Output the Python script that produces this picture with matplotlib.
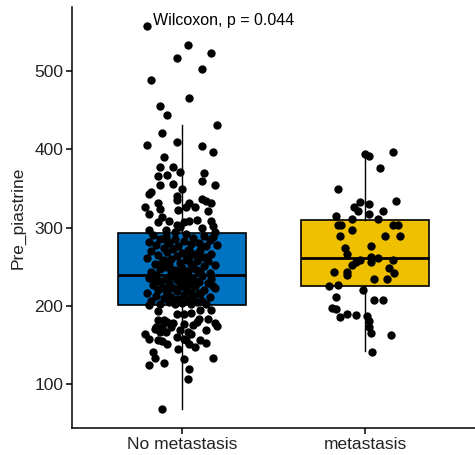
import numpy as np
import matplotlib
matplotlib.use("Agg")
from matplotlib import pyplot as plt

plt.rcParams['font.family'] = ['Liberation Sans', 'DejaVu Sans']

groups = ['No metastasis', 'metastasis']
box_colors = ['#0073C2', '#EFC000']

# box statistics
q1 = [201, 226]
med = [240, 261]
q3 = [293, 310]
whislo = [68, 142]
whishi = [431, 394]

# No metastasis: (jitter offset, value)
nomet_pts = [
    # above the box
    (-0.19, 557), (0.03, 533), (-0.03, 517), (0.16, 523), (0.11, 502), (-0.17, 488),
    (0.04, 466), (-0.12, 455), (-0.08, 444), (0.19, 431), (-0.11, 421), (-0.19, 405),
    (-0.03, 409), (0.11, 404), (0.17, 397), (-0.10, 390), (-0.12, 377), (-0.05, 377),
    (-0.01, 371), (-0.13, 366), (-0.08, 367), (0.12, 370), (0.11, 360), (-0.12, 354),
    (-0.05, 356), (0.18, 355), (-0.17, 346), (-0.18, 343), (0.00, 349), (-0.03, 341),
    (-0.03, 335), (0.11, 337), (0.13, 334), (0.16, 332), (0.04, 332), (-0.13, 331),
    (-0.20, 327), (-0.12, 324), (0.07, 326), (0.02, 327), (-0.02, 322), (-0.18, 318),
    (0.14, 321), (-0.11, 314), (-0.13, 307), (-0.07, 309), (0.08, 310), (0.16, 308),
    (0.01, 307), (0.04, 308), (-0.03, 303), (-0.01, 301), (0.17, 302), (0.11, 300),
    (-0.18, 297), (-0.09, 297), (-0.04, 295), (0.18, 295),
    # inside the box, upper half
    (-0.16, 291), (-0.09, 290), (0.02, 292), (0.12, 289), (0.17, 288), (-0.12, 286),
    (-0.04, 285), (0.06, 287), (0.15, 284), (-0.18, 282), (-0.07, 281), (0.01, 283),
    (0.09, 280), (-0.14, 278), (-0.02, 277), (0.05, 279), (0.13, 276), (0.19, 278),
    (-0.10, 274), (-0.05, 273), (0.03, 272), (0.10, 271), (-0.17, 270), (-0.08, 269),
    (0.00, 268), (0.07, 267), (0.16, 266), (-0.13, 265), (-0.03, 264), (0.04, 263),
    (0.11, 262), (-0.19, 261), (-0.06, 260), (0.02, 259), (0.08, 258), (0.14, 257),
    (-0.11, 256), (-0.01, 255), (0.05, 254), (-0.15, 253), (-0.07, 252), (0.12, 251),
    (0.18, 252), (-0.09, 250), (0.00, 249), (0.06, 248), (-0.12, 247), (-0.04, 246),
    (0.03, 245), (0.10, 244), (-0.17, 243), (-0.06, 242), (0.01, 241), (0.15, 242),
    (-0.02, 244), (0.08, 246), (-0.10, 259), (0.04, 271), (-0.08, 283), (0.13, 263),
    # inside the box, lower half
    (-0.14, 239), (-0.05, 238), (0.02, 237), (0.11, 238), (-0.18, 236), (-0.09, 235),
    (0.06, 234), (0.16, 235), (-0.03, 233), (-0.12, 232), (0.00, 231), (0.09, 230),
    (-0.07, 229), (0.04, 228), (0.14, 229), (-0.16, 227), (-0.01, 226), (0.07, 225),
    (-0.11, 224), (-0.05, 223), (0.02, 222), (0.12, 221), (0.18, 223), (-0.13, 220),
    (-0.03, 219), (0.05, 218), (-0.19, 217), (-0.08, 216), (0.10, 215), (0.01, 214),
    (-0.14, 213), (-0.06, 212), (0.06, 211), (0.15, 212), (-0.10, 210), (-0.02, 209),
    (0.03, 208), (0.11, 207), (-0.17, 206), (-0.07, 205), (0.00, 204), (0.08, 205),
    (-0.12, 203), (-0.04, 202), (0.05, 203), (0.13, 202), (-0.09, 221), (0.04, 236),
    (-0.15, 230), (0.09, 217), (-0.01, 238), (0.17, 226), (-0.05, 207), (0.07, 232),
    # below the box
    (-0.11, 68), (0.03, 107), (0.04, 119), (-0.18, 125), (-0.10, 127), (0.17, 134),
    (-0.16, 141), (-0.15, 134), (0.01, 132), (-0.02, 145), (-0.08, 151), (0.13, 153),
    (0.07, 147), (0.04, 151), (0.10, 157), (-0.20, 164), (-0.18, 158), (-0.13, 156),
    (-0.11, 155), (0.02, 156), (0.13, 169), (0.19, 174), (0.18, 178), (0.03, 167),
    (0.01, 158), (-0.03, 161), (-0.09, 167), (-0.12, 167), (-0.15, 170), (-0.13, 182),
    (-0.08, 180), (-0.03, 190), (-0.05, 178), (0.01, 177), (0.06, 176), (0.09, 184),
    (0.14, 184), (0.10, 195), (0.16, 195), (0.05, 191), (0.01, 190), (-0.18, 201),
    (-0.13, 193), (-0.10, 182), (-0.11, 173), (0.08, 180), (-0.06, 173), (-0.01, 169),
    (-0.14, 173), (0.05, 164),
]

# metastasis: (jitter offset, value)
met_pts = [
    (0.00, 394), (0.02, 391), (0.15, 397), (0.08, 376), (-0.15, 349), (0.17, 334),
    (-0.03, 333), (-0.06, 327), (-0.04, 321), (0.02, 330), (0.10, 321), (-0.16, 315),
    (0.02, 317), (-0.07, 311), (0.07, 311), (-0.15, 304), (-0.13, 304), (0.15, 303),
    (0.18, 303), (-0.07, 297), (-0.14, 290), (0.11, 289), (0.19, 289), (0.03, 276),
    (-0.11, 274), (-0.10, 267), (-0.03, 259), (-0.05, 256), (0.03, 263), (0.03, 256),
    (0.07, 261), (0.15, 259), (-0.07, 252), (0.13, 249), (0.16, 242), (-0.17, 244),
    (-0.10, 244), (-0.10, 239), (0.05, 234), (0.12, 235), (-0.20, 225), (-0.15, 227),
    (-0.01, 221), (-0.16, 212), (0.05, 208), (0.10, 208), (-0.18, 198), (-0.16, 196),
    (-0.10, 190), (-0.14, 186), (-0.05, 188), (0.01, 187), (0.02, 181), (0.02, 173),
    (0.03, 165), (0.14, 163), (0.04, 141),
]

p_label = 'Wilcoxon, p = 0.044'

fig = plt.figure(figsize=(4.75, 4.55), dpi=100)
ax = fig.add_axes([0.152, 0.059, 0.848, 0.926])

stats = []
for i in range(2):
    stats.append({'q1': q1[i], 'med': med[i], 'q3': q3[i],
                  'whislo': whislo[i], 'whishi': whishi[i], 'fliers': []})

bp = ax.bxp(stats, positions=[1, 2], widths=0.7, patch_artist=True,
            showcaps=False, showfliers=False,
            boxprops=dict(linewidth=1.2, edgecolor='black'),
            medianprops=dict(color='black', linewidth=2.0),
            whiskerprops=dict(color='black', linewidth=1.0))
for patch, c in zip(bp['boxes'], box_colors):
    patch.set_facecolor(c)

for i, pts in enumerate([nomet_pts, met_pts]):
    arr = np.array(pts)
    ax.scatter(i + 1 + arr[:, 0], arr[:, 1], s=36, color='black',
               linewidths=0, zorder=5)

ax.text(0.84, 565, p_label, fontsize=11.5, ha='left', va='center')

ax.set_xlim(0.4, 2.6)
ax.set_ylim(44, 582)
ax.set_xticks([1, 2])
ax.set_xticklabels(groups)
ax.set_yticks([100, 200, 300, 400, 500])
ax.set_ylabel('Pre_piastrine', fontsize=12.5, color='#222222', labelpad=6)

for s in ['top', 'right']:
    ax.spines[s].set_visible(False)
for s in ['left', 'bottom']:
    ax.spines[s].set_linewidth(1.1)
ax.tick_params(axis='both', length=4.5, width=1.1, labelsize=12.5,
               labelcolor='#222222', pad=2)

fig.savefig('out.png', dpi=100)
